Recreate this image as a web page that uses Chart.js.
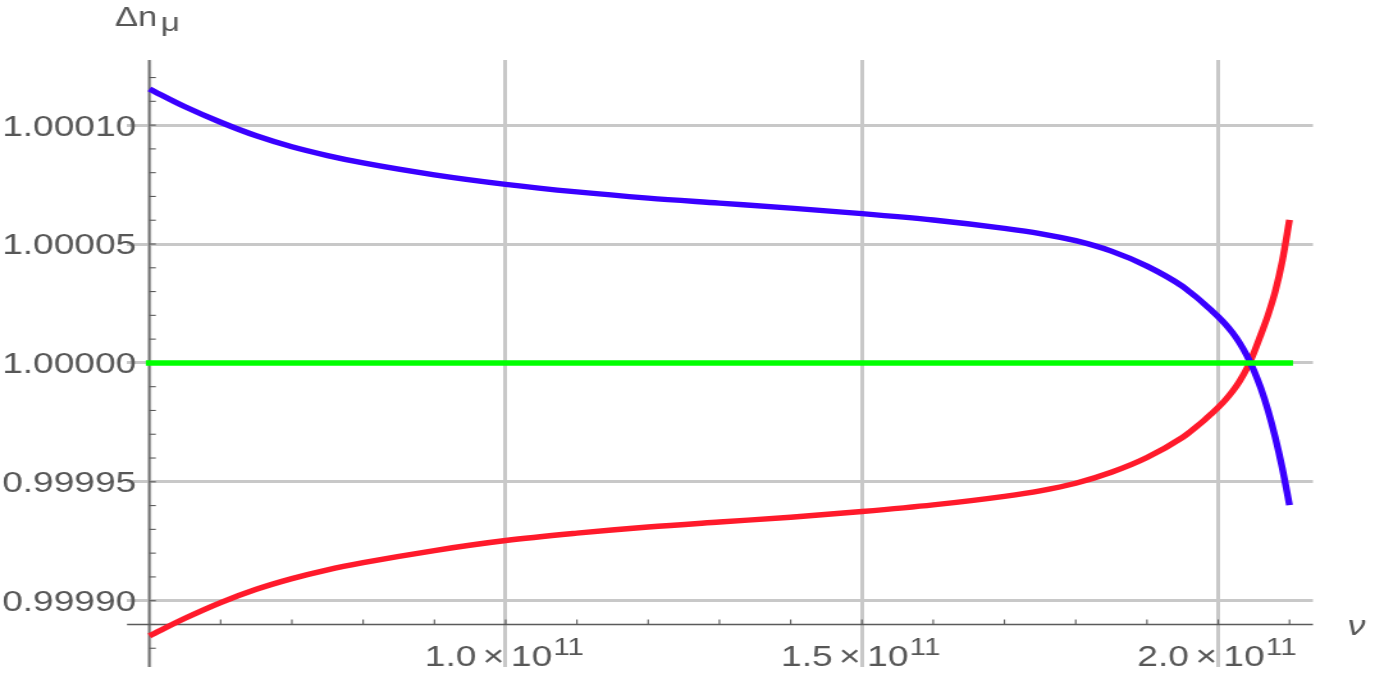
<!DOCTYPE html>
<html>
<head>
<meta charset="utf-8">
<script src="https://cdn.jsdelivr.net/npm/chart.js@4/dist/chart.umd.min.js"></script>
<style>
  html, body { margin: 0; padding: 0; background: #ffffff; overflow: hidden; }
  #wrap { width: 1375px; height: 675px; }
  #c { width: 1375px; height: 675px; display: block; }
</style>
</head>
<body>
<div id="wrap"><canvas id="c" width="1074" height="675" style="width:1375px;height:675px"></canvas></div>
<script>
// ---------------- data ----------------
const nu = [5.0e10, 5.5e10, 6.0e10, 6.5e10, 7.0e10, 7.5e10, 8.0e10, 9.0e10, 1.0e11, 1.1e11,
            1.2e11, 1.3e11, 1.4e11, 1.5e11, 1.6e11, 1.7e11, 1.75e11, 1.8e11, 1.85e11, 1.9e11,
            1.95e11, 1.96e11, 1.97e11, 1.98e11, 1.99e11, 2.0e11, 2.01e11, 2.02e11, 2.03e11, 2.04e11,
            2.05e11, 2.06e11, 2.07e11, 2.08e11, 2.09e11, 2.1e11];
const blueDn = [1.0001152, 1.0001077, 1.0001012, 1.0000955, 1.0000909, 1.0000872, 1.0000841, 1.0000791, 1.0000751, 1.0000719,
                1.0000693, 1.0000672, 1.0000651, 1.0000628, 1.0000601, 1.0000566, 1.0000544, 1.0000514, 1.0000470, 1.0000407,
                1.0000322, 1.0000299, 1.0000275, 1.0000249, 1.0000222, 1.0000194, 1.0000163, 1.0000127, 1.0000084, 1.0000032,
                0.9999969, 0.9999892, 0.9999799, 0.9999687, 0.9999556, 0.9999402];
const redDn  = [0.9998852, 0.9998926, 0.9998992, 0.9999048, 0.9999093, 0.9999130, 0.9999160, 0.9999211, 0.9999253, 0.9999284,
                0.9999310, 0.9999331, 0.9999351, 0.9999375, 0.9999403, 0.9999439, 0.9999462, 0.9999494, 0.9999540, 0.9999602,
                0.9999687, 0.9999709, 0.9999733, 0.9999758, 0.9999785, 0.9999813, 0.9999844, 0.9999880, 0.9999923, 0.9999975,
                1.0000042, 1.0000120, 1.0000202, 1.0000300, 1.0000430, 1.0000601];
const greenNu = [5.0e10, 2.1e11];
const greenDn = [1.0, 1.0];

// ticks
const xGridValues = [1.0e11, 1.5e11, 2.0e11];
const xTickMantissas = ["1.0", "1.5", "2.0"];
const xTickExponent = "11";
const xMinorTicks = [6e10, 7e10, 8e10, 9e10, 1.0e11, 1.1e11, 1.2e11, 1.3e11, 1.4e11, 1.5e11,
                     1.6e11, 1.7e11, 1.8e11, 1.9e11, 2.0e11, 2.1e11];
const yGridValues = [0.9999, 0.99995, 1.0, 1.00005, 1.0001];
const yTickLabels = ["0.99990", "0.99995", "1.00000", "1.00005", "1.00010"];
const yMinorTicks = [0.99988, 0.99989, 0.9999, 0.99991, 0.99992, 0.99993, 0.99994, 0.99995, 0.99996, 0.99997,
                     0.99998, 0.99999, 1.0, 1.00001, 1.00002, 1.00003, 1.00004, 1.00005, 1.00006, 1.00007,
                     1.00008, 1.00009, 1.0001, 1.00011, 1.00012];
const xRange = [0.4686e11, 2.1329e11];
const yRange = [0.99987212, 1.00012738];
const yAxisAtNu = 5.0e10;      // vertical axis position
const xAxisAtDn = 0.99989;     // horizontal axis position
const yAxisTitle = ["Δn", "μ"];
const xAxisTitle = "ν";

// ---------------- styling ----------------
const TEXT = '#575757';
const FONT = '"Liberation Sans", Arial, sans-serif';

function pts(xs, ys) { return xs.map((v, i) => ({ x: v, y: ys[i] })); }

const axesPlugin = {
  id: 'mmaAxes',
  beforeDatasetsDraw(chart) {
    const { ctx, chartArea: a, scales: { x, y } } = chart;
    const x0 = x.getPixelForValue(yAxisAtNu);
    const y0 = y.getPixelForValue(xAxisAtDn);
    ctx.save();
    ctx.lineCap = 'butt';
    // vertical axis
    ctx.strokeStyle = '#b0b0b0';
    ctx.lineWidth = 3;
    ctx.beginPath(); ctx.moveTo(x0, a.top); ctx.lineTo(x0, a.bottom); ctx.stroke();
    ctx.strokeStyle = '#666666';
    ctx.lineWidth = 1.1;
    ctx.beginPath(); ctx.moveTo(x0, a.top); ctx.lineTo(x0, a.bottom); ctx.stroke();
    // horizontal axis
    ctx.strokeStyle = '#5a5a5a';
    ctx.lineWidth = 1.4;
    ctx.beginPath(); ctx.moveTo(a.left, y0); ctx.lineTo(a.right, y0); ctx.stroke();
    // tick marks
    ctx.lineWidth = 1.1;
    ctx.strokeStyle = '#5a5a5a';
    xMinorTicks.forEach(v => {
      const px = x.getPixelForValue(v);
      ctx.beginPath(); ctx.moveTo(px, y0); ctx.lineTo(px, y0 - 5); ctx.stroke();
    });
    yMinorTicks.forEach(v => {
      const py = y.getPixelForValue(v);
      ctx.beginPath(); ctx.moveTo(x0, py); ctx.lineTo(x0 + 5, py); ctx.stroke();
    });
    ctx.restore();
  },
  afterDraw(chart) {
    const { ctx, scales: { x, y } } = chart;
    const x0 = x.getPixelForValue(yAxisAtNu);
    ctx.save();
    ctx.fillStyle = TEXT;
    ctx.textBaseline = 'alphabetic';
    // y tick labels
    ctx.font = '29px ' + FONT;
    ctx.textAlign = 'right';
    yGridValues.forEach((v, i) => {
      const py = y.getPixelForValue(v);
      ctx.fillText(yTickLabels[i], x0 - 10.2, py + 10.4);
    });
    // x tick labels: m × 10^11
    ctx.textAlign = 'left';
    xGridValues.forEach((v, i) => {
      const px = x.getPixelForValue(v);
      ctx.font = '29px ' + FONT;
      const w1 = ctx.measureText(xTickMantissas[i]).width;
      const wx = ctx.measureText('×').width;
      const w10 = ctx.measureText('10').width;
      ctx.font = '23px ' + FONT;
      const wsup = ctx.measureText(xTickExponent).width;
      const gap = 5;
      const total = w1 + gap + wx + gap + w10 + 1 + wsup;
      let cx = px - total / 2 - 1;
      const base = 666;
      ctx.font = '29px ' + FONT;
      ctx.fillText(xTickMantissas[i], cx, base); cx += w1 + gap;
      ctx.fillText('×', cx, base); cx += wx + gap;
      ctx.fillText('10', cx, base); cx += w10 + 1;
      ctx.font = '23px ' + FONT;
      ctx.fillText(xTickExponent, cx, base - 11);
    });
    // axis titles
    ctx.font = '27px ' + FONT;
    ctx.fillText(yAxisTitle[0], 89.8, 26);
    ctx.font = '26px ' + FONT;
    ctx.fillText(yAxisTitle[1], 125.5, 31);
    ctx.font = 'italic 28px ' + FONT;
    ctx.fillText(xAxisTitle, 1052.5, 635);
    ctx.restore();
  }
};

new Chart(document.getElementById('c'), {
  type: 'line',
  data: {
    datasets: [
      { label: 'green', data: pts(greenNu, greenDn), borderColor: '#00ff00', borderWidth: 5.5,
        pointRadius: 0, borderCapStyle: 'square', tension: 0 },
      { label: 'blue', data: pts(nu, blueDn), borderColor: '#3a00ff', borderWidth: 5.4,
        pointRadius: 0, cubicInterpolationMode: 'monotone', borderCapStyle: 'butt' },
      { label: 'red', data: pts(nu, redDn), borderColor: '#ff1a2b', borderWidth: 5.4,
        pointRadius: 0, cubicInterpolationMode: 'monotone', borderCapStyle: 'butt' }
    ]
  },
  options: {
    responsive: false,
    animation: false,
    devicePixelRatio: 1,
    layout: { padding: { left: 99.2, right: 48.5, top: 60, bottom: 8 } },
    plugins: { legend: { display: false }, tooltip: { enabled: false }, title: { display: false } },
    scales: {
      x: {
        type: 'linear', min: xRange[0], max: xRange[1],
        grid: { color: '#c8c8c8', lineWidth: 3, drawTicks: false },
        border: { display: false },
        ticks: { display: false },
        afterBuildTicks: s => { s.ticks = xGridValues.map(v => ({ value: v })); }
      },
      y: {
        type: 'linear', min: yRange[0], max: yRange[1],
        grid: { color: '#c8c8c8', lineWidth: 3, drawTicks: false },
        border: { display: false },
        ticks: { display: false },
        afterBuildTicks: s => { s.ticks = yGridValues.map(v => ({ value: v })); }
      }
    }
  },
  plugins: [axesPlugin]
});
</script>
</body>
</html>
